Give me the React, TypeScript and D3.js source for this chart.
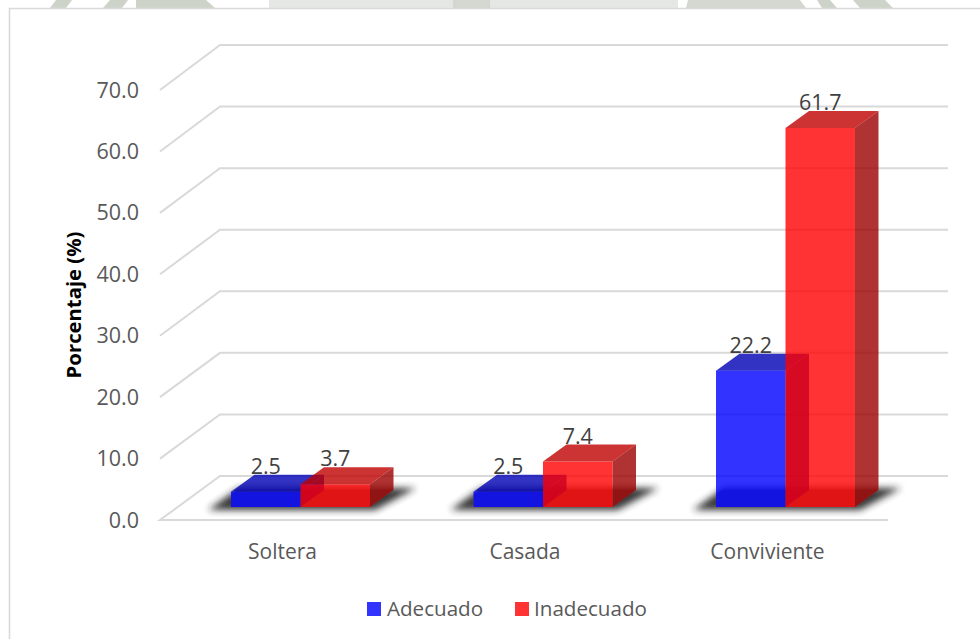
import React from "react";
import * as d3 from "d3";

const categories = ["Soltera", "Casada", "Conviviente"];
const adecuado = [2.5, 2.5, 22.2];
const inadecuado = [3.7, 7.4, 61.7];
const seriesNames = ["Adecuado", "Inadecuado"];
const yTicks = [0, 10, 20, 30, 40, 50, 60, 70];

const FONT = "'Open Sans', 'Noto Sans', sans-serif";
const GRID = "#d9d9d9";
const TEXT = "#595959";
const LABEL = "#404040";

// Fragments of the page backdrop showing above the chart frame: [x top-left, x top-right, x bottom-right, x bottom-left, fill]
const backdrop: [number, number, number, number, string][] = [
  [56, 72, 66, 50, "#cdd3c9"],
  [110, 128, 122, 103, "#cdd3c9"],
  [136, 206, 215, 136, "#cdd3c9"],
  [269, 453, 453, 269, "#e4e7e3"],
  [453, 490, 490, 453, "#d3d7cf"],
  [490, 678, 678, 490, "#e4e7e3"],
  [688, 800, 806, 686, "#d3d7cf"],
  [817, 830, 837, 822, "#cdd3c9"],
  [853, 885, 893, 860, "#cdd3c9"],
];

const WIDTH = 980;
const HEIGHT = 639;

const yFront = d3.scaleLinear().domain([0, 70]).range([520, 90]);
const yBack = d3.scaleLinear().domain([0, 70]).range([476, 45]);
const yBar = d3.scaleLinear().domain([0, 70]).range([507, 77]);
const FRONT_X: [number, number] = [160, 888];
const BACK_X: [number, number] = [220, 948];

const xGroup = d3.scaleBand<string>().domain(categories).range([179.25, 906.75]);
const BAR_W = 69.5;
const DX = 23.5;
const DY = -17;

const pts = (p: [number, number][]) => p.map((q) => q.join(",")).join(" ");

interface FaceColors {
  front: string;
  top: string;
  side: string;
}
const blueFaces: FaceColors = { front: "#0000ff", top: "#0000b4", side: "#00009c" };
const redFaces: FaceColors = { front: "#ff0000", top: "#bf0000", side: "#9c0000" };

function Bar({ x, value, c }: { x: number; value: number; c: FaceColors }) {
  const y0 = yBar(0);
  const y1 = yBar(value);
  const x1 = x + BAR_W;
  return (
    <g fillOpacity={0.8}>
      <polygon fill={c.side} points={pts([[x1, y0], [x1 + DX, y0 + DY], [x1 + DX, y1 + DY], [x1, y1]])} />
      <polygon fill={c.top} points={pts([[x, y1], [x1, y1], [x1 + DX, y1 + DY], [x + DX, y1 + DY]])} />
      <rect x={x} y={y1} width={BAR_W} height={y0 - y1} fill={c.front} />
    </g>
  );
}

export default function App() {
  const groupX = (cat: string) => (xGroup(cat) as number) + xGroup.bandwidth() / 2 - BAR_W;
  return (
    <svg
      width={WIDTH}
      height={HEIGHT}
      viewBox={`0 0 ${WIDTH} ${HEIGHT}`}
      style={{ position: "fixed", left: 0, top: 0, background: "#fff" }}
      fontFamily={FONT}
    >
      <defs>
        <filter id="floorShadow" x="-20%" y="-80%" width="140%" height="260%">
          <feGaussianBlur stdDeviation="3.6" />
        </filter>
      </defs>

      {backdrop.map(([a, b, c, d, fill], i) => (
        <polygon key={i} fill={fill} points={pts([[a, 0], [b, 0], [c, 8], [d, 8]])} />
      ))}

      {/* Chart frame: only the top and left edges fall inside the canvas */}
      <path d={`M9.5 ${HEIGHT} V8.5 H${WIDTH}`} fill="none" stroke={GRID} strokeWidth={1.6} />

      {/* Back wall gridlines with their diagonal floor returns */}
      <g stroke={GRID} strokeWidth={2} fill="none">
        {yTicks.map((t) => (
          <polyline
            key={t}
            points={pts([
              ...(t === 0 ? ([[FRONT_X[1], yFront(t)]] as [number, number][]) : []),
              [FRONT_X[0], yFront(t)],
              [BACK_X[0], yBack(t)],
              [BACK_X[1], yBack(t)],
            ])}
          />
        ))}
      </g>

      {/* Axis labels */}
      <g fontSize={21.5} fill={TEXT} textAnchor="end">
        {yTicks.map((t) => (
          <text key={t} x={139} y={yFront(t) + 7.5}>
            {d3.format(".1f")(t)}
          </text>
        ))}
      </g>
      <text
        transform="translate(81,305) rotate(-90)"
        textAnchor="middle"
        fontSize={20.3}
        fontWeight={700}
        fill="#000"
      >
        Porcentaje (%)
      </text>
      <g fontSize={21} fill={TEXT} textAnchor="middle">
        {categories.map((cat) => (
          <text key={cat} x={groupX(cat) + BAR_W - 18} y={559}>
            {cat}
          </text>
        ))}
      </g>

      {/* Soft shadows cast on the floor */}
      {categories.map((cat) => {
        const x = groupX(cat);
        return (
          <polygon
            key={cat}
            fill="#222"
            opacity={0.9}
            filter="url(#floorShadow)"
            points={pts([
              [x - 23, yBar(0) + 3],
              [x + 8, yBar(0) + DY - 2],
              [x + 2 * BAR_W + 46, yBar(0) + DY - 2],
              [x + 2 * BAR_W + 5, yBar(0) + 3],
            ])}
          />
        );
      })}

      {/* Lit floor patch under each pair of bars */}
      {categories.map((cat) => {
        const x = groupX(cat);
        const y0 = yBar(0);
        return (
          <polygon
            key={cat}
            fill="#646464"
            points={pts([
              [x, y0],
              [x + 2 * BAR_W, y0],
              [x + 2 * BAR_W + DX, y0 + DY],
              [x + 6, y0 + DY],
              [x, y0 + DY + 5],
            ])}
          />
        );
      })}

      {/* Bars: each category's blue bar first, so it shows through the red one */}
      {categories.map((cat, i) => {
        const x = groupX(cat);
        return (
          <g key={cat}>
            <Bar x={x} value={adecuado[i]} c={blueFaces} />
            <Bar x={x + BAR_W} value={inadecuado[i]} c={redFaces} />
          </g>
        );
      })}

      {/* Value labels sit just above the back edge of each bar's top */}
      <g fontSize={21.5} fill={LABEL} textAnchor="middle">
        {categories.map((cat, i) => {
          const x = groupX(cat);
          return (
            <g key={cat}>
              <text x={x + BAR_W / 2} y={yBar(adecuado[i]) + DY - 1}>
                {d3.format(".1f")(adecuado[i])}
              </text>
              <text x={x + BAR_W * 1.5} y={yBar(inadecuado[i]) + DY - 1}>
                {d3.format(".1f")(inadecuado[i])}
              </text>
            </g>
          );
        })}
      </g>

      {/* Legend */}
      <g fontSize={20.6} fill={TEXT}>
        <rect x={367} y={602} width={14} height={14} fill="#3333ff" />
        <text x={387} y={616}>{seriesNames[0]}</text>
        <rect x={515} y={602} width={14} height={14} fill="#ff3333" />
        <text x={534} y={616}>{seriesNames[1]}</text>
      </g>
    </svg>
  );
}
